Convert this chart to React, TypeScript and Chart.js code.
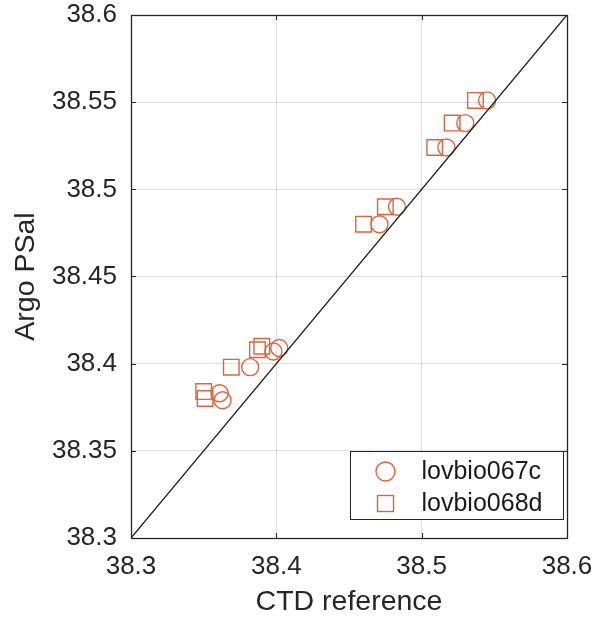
import React, { useEffect, useRef } from "react";
import { Chart, registerables } from "chart.js";

Chart.register(...registerables);

// ---- Data ----
const ctd067 = [38.545, 38.530, 38.517, 38.483, 38.471, 38.402, 38.398, 38.382, 38.361, 38.363];
const argo067 = [38.551, 38.538, 38.524, 38.490, 38.480, 38.409, 38.407, 38.398, 38.383, 38.379];
const ctd068 = [38.537, 38.521, 38.509, 38.475, 38.460, 38.387, 38.390, 38.369, 38.350, 38.351];
const argo068 = [38.551, 38.538, 38.524, 38.490, 38.480, 38.408, 38.410, 38.398, 38.384, 38.380];
const identityLine = [38.3, 38.6];
const seriesNames = ["lovbio067c", "lovbio068d"];
const xTitle = "CTD reference";
const yTitle = "Argo PSal";

const ORANGE = "rgb(222,100,58)";
const DARK = "#262626";
const FONT = "'Liberation Sans', Arial, Helvetica, sans-serif";

const framePlugin = {
  id: "frameAndLegend",
  afterDraw(chart: any) {
    const { ctx, chartArea: a, scales } = chart;
    ctx.save();
    // inner tick marks
    ctx.strokeStyle = DARK;
    ctx.lineWidth = 1;
    const tl = 5;
    scales.x.ticks.forEach((t: any) => {
      const px = Math.round(scales.x.getPixelForValue(t.value)) + 0.5;
      ctx.beginPath();
      ctx.moveTo(px, a.bottom);
      ctx.lineTo(px, a.bottom - tl);
      ctx.moveTo(px, a.top);
      ctx.lineTo(px, a.top + tl);
      ctx.stroke();
    });
    scales.y.ticks.forEach((t: any) => {
      const py = Math.round(scales.y.getPixelForValue(t.value)) + 0.5;
      ctx.beginPath();
      ctx.moveTo(a.left, py);
      ctx.lineTo(a.left + tl, py);
      ctx.moveTo(a.right, py);
      ctx.lineTo(a.right - tl, py);
      ctx.stroke();
    });
    // frame
    ctx.lineWidth = 1.3;
    ctx.strokeStyle = DARK;
    ctx.strokeRect(Math.round(a.left) + 0.5, Math.round(a.top) + 0.5, Math.round(a.right - a.left), Math.round(a.bottom - a.top));

    // legend
    const bw = 213, bh = 68;
    const bx = Math.round(a.right - 4 - bw) + 0.5;
    const by = Math.round(a.bottom - 19 - bh) + 0.5;
    ctx.fillStyle = "#ffffff";
    ctx.fillRect(bx, by, bw, bh);
    ctx.lineWidth = 1;
    ctx.strokeStyle = DARK;
    ctx.strokeRect(bx, by, bw, bh);
    const mx = bx + 35;
    const y1 = by + 20;
    const y2 = by + 52;
    ctx.strokeStyle = ORANGE;
    ctx.lineWidth = 1.4;
    ctx.beginPath();
    ctx.arc(mx, y1, 9.5, 0, Math.PI * 2);
    ctx.stroke();
    ctx.strokeRect(mx - 8, y2 - 8, 16, 16);
    ctx.fillStyle = "#1a1a1a";
    ctx.font = `25px ${FONT}`;
    ctx.textBaseline = "middle";
    ctx.textAlign = "left";
    ctx.fillText(seriesNames[0], bx + 71, y1 + 1);
    ctx.fillText(seriesNames[1], bx + 71, y2 + 1);
    ctx.restore();
  },
};

const fmt = (v: any) => String(Number(Number(v).toFixed(2)));

export default function App() {
  const ref = useRef<HTMLCanvasElement | null>(null);
  useEffect(() => {
    if (!ref.current) return;
    const chart = new Chart(ref.current, {
      type: "scatter",
      data: {
        datasets: [
          {
            label: "identity",
            data: identityLine.map((v) => ({ x: v, y: v })),
            showLine: true,
            borderColor: "#1a1a1a",
            borderWidth: 1.3,
            pointRadius: 0,
            fill: false,
          },
          {
            label: seriesNames[0],
            data: ctd067.map((x, i) => ({ x, y: argo067[i] })),
            pointStyle: "circle",
            pointRadius: 8.5,
            borderColor: ORANGE,
            backgroundColor: "rgba(0,0,0,0)",
            pointBorderWidth: 1.4,
          },
          {
            label: seriesNames[1],
            data: ctd068.map((x, i) => ({ x, y: argo068[i] })),
            pointStyle: "rect",
            pointRadius: 11,
            borderColor: ORANGE,
            backgroundColor: "rgba(0,0,0,0)",
            pointBorderWidth: 1.4,
          },
        ],
      },
      options: {
        animation: false,
        responsive: false,
        layout: { padding: 0 },
        plugins: {
          legend: { display: false },
          tooltip: { enabled: false },
        },
        scales: {
          x: {
            type: "linear",
            min: 38.3,
            max: 38.6,
            afterFit: (s: any) => {
              s.height = 81;
              s.paddingLeft = 0;
              s.paddingRight = 26;
            },
            ticks: {
              stepSize: 0.1,
              callback: fmt,
              color: DARK,
              font: { family: FONT, size: 26 },
              padding: 13,
              maxRotation: 0,
            },
            grid: { color: "rgba(38,38,38,0.15)", drawTicks: false, lineWidth: 1 },
            border: { display: false },
            title: {
              display: true,
              text: xTitle,
              color: DARK,
              font: { family: FONT, size: 28.5 },
              padding: { top: 0, bottom: 0 },
            },
          },
          y: {
            type: "linear",
            min: 38.3,
            max: 38.6,
            afterFit: (s: any) => {
              s.width = 131;
              s.paddingTop = 15;
              s.paddingBottom = 0;
            },
            ticks: {
              stepSize: 0.05,
              callback: fmt,
              color: DARK,
              font: { family: FONT, size: 26 },
              padding: 14,
            },
            grid: { color: "rgba(38,38,38,0.15)", drawTicks: false, lineWidth: 1 },
            border: { display: false },
            title: {
              display: true,
              text: yTitle,
              color: DARK,
              font: { family: FONT, size: 28.5 },
              padding: { top: 9, bottom: 0 },
            },
          },
        },
      },
      plugins: [framePlugin],
    } as any);
    return () => chart.destroy();
  }, []);
  return (
    <div style={{ position: "absolute", left: 0, top: 0, width: 593, height: 619, background: "#fff" }}>
      <canvas ref={ref} width={593} height={619} style={{ display: "block" }} />
    </div>
  );
}
